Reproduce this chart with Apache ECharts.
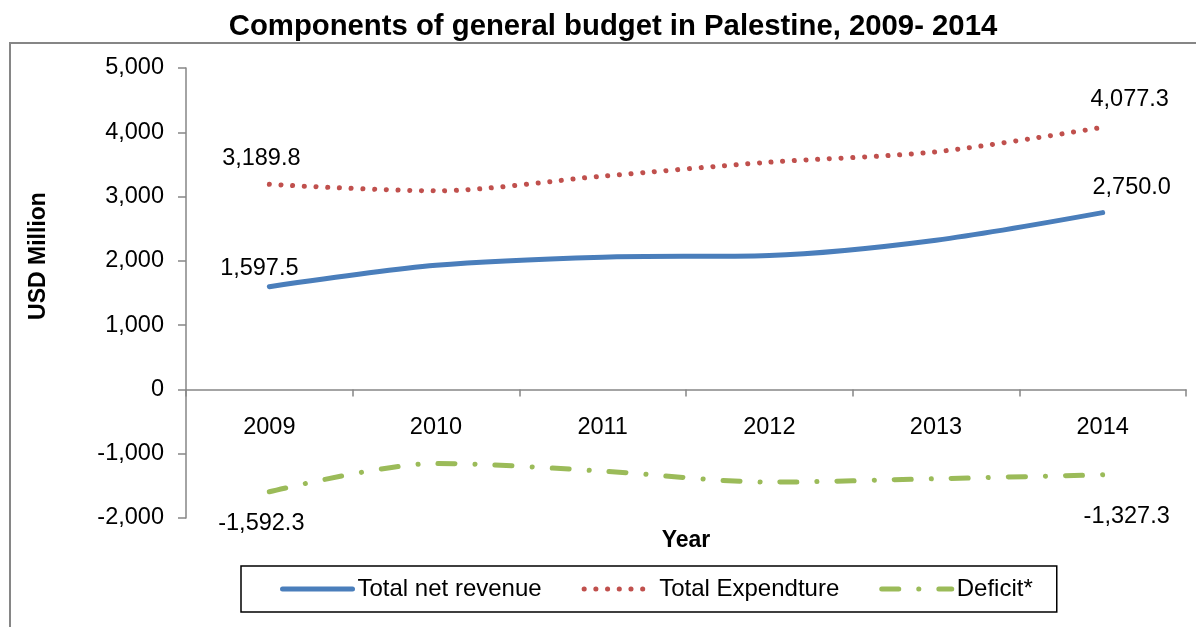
<!DOCTYPE html>
<html>
<head>
<meta charset="utf-8">
<script src="https://cdn.jsdelivr.net/npm/echarts@6/dist/echarts.min.js"></script>
<style>
html,body{margin:0;padding:0;background:#fff;}
#chart{width:1196px;height:627px;}
</style>
</head>
<body>
<div id="chart"></div>
<script>
const categories = ['2009', '2010', '2011', '2012', '2013', '2014'];
const revenue = [1597.5, 1930, 2058, 2084, 2322, 2750.0];
const expenditure = [3189.8, 3090, 3318, 3535, 3697, 4077.3];
const deficit = [-1592.3, -1151, -1270, -1442, -1389, -1327.3];
const seriesNames = ['Total net revenue', 'Total Expendture', 'Deficit*'];
const yTicks = { min: -2000, max: 5000, interval: 1000 };

const FONT = '"Liberation Sans", Arial, sans-serif';
const fmt = v => v.toLocaleString('en-US', { minimumFractionDigits: 1, maximumFractionDigits: 1 });

function withLabels(values, firstOffset, lastOffset) {
  return values.map((v, i) => {
    if (i === 0 || i === values.length - 1) {
      return {
        value: v,
        label: {
          show: true,
          position: 'inside',
          offset: i === 0 ? firstOffset : lastOffset,
          formatter: p => fmt(p.value),
          color: '#000',
          fontFamily: FONT,
          fontSize: 23.5
        }
      };
    }
    return v;
  });
}

const chart = echarts.init(document.getElementById('chart'), null, { renderer: 'canvas' });
chart.setOption({
  animation: false,
  backgroundColor: '#fff',
  title: {
    text: 'Components of general budget in Palestine, 2009- 2014',
    left: 608, top: 7, textAlign: 'center',
    textStyle: { fontFamily: FONT, fontWeight: 'bold', fontSize: 29.3, color: '#000' }
  },
  graphic: [{
    type: 'rect', z: -1,
    shape: { x: 10, y: 43, width: 1200, height: 620 },
    style: { fill: 'none', stroke: '#868686', lineWidth: 2 }
  }],
  legend: {
    left: 241, top: 566,
    data: seriesNames,
    itemWidth: 70, itemHeight: 14, itemGap: 40,
    padding: [11, 24, 11, 39],
    borderColor: '#000', borderWidth: 1.5,
    itemStyle: { opacity: 0 },
    lineStyle: { width: 5 },
    textStyle: { fontFamily: FONT, fontSize: 24, color: '#000' }
  },
  grid: { left: 186, right: 10, top: 68, bottom: 109, containLabel: false, outerBoundsMode: 'none' },
  xAxis: {
    type: 'category',
    data: categories,
    name: 'Year', nameLocation: 'middle', nameGap: 11,
    nameTextStyle: { fontFamily: FONT, fontWeight: 'bold', fontSize: 23, color: '#000' },
    axisLine: { onZero: true, lineStyle: { color: '#868686', width: 1.5 } },
    axisTick: { show: true, length: 7, lineStyle: { color: '#868686', width: 1.5 } },
    axisLabel: { margin: -102, fontFamily: FONT, fontSize: 23.5, color: '#000' },
    splitLine: { show: false }
  },
  yAxis: {
    type: 'value',
    min: yTicks.min, max: yTicks.max, interval: yTicks.interval,
    name: 'USD Million', nameLocation: 'middle', nameGap: 136,
    nameTextStyle: { fontFamily: FONT, fontWeight: 'bold', fontSize: 23, color: '#000', padding: [0, 0, 0, 74] },
    axisLine: { show: true, lineStyle: { color: '#868686', width: 1.5 } },
    axisTick: { show: true, length: 8, lineStyle: { color: '#868686', width: 1.5 } },
    axisLabel: { margin: 22, fontFamily: FONT, fontSize: 23.5, color: '#000',
      formatter: v => v.toLocaleString('en-US') },
    splitLine: { show: false }
  },
  series: [
    {
      name: seriesNames[0], type: 'line', smooth: 0.3,
      symbol: 'circle', symbolSize: 2, showSymbol: true,
      itemStyle: { color: 'rgba(0,0,0,0)' },
      lineStyle: { color: '#4A7EBB', width: 5, cap: 'round' },
      data: withLabels(revenue, [-10, -18], [29, -25]),
      z: 3
    },
    {
      name: seriesNames[1], type: 'line', smooth: 0.3,
      symbol: 'circle', symbolSize: 2, showSymbol: true,
      itemStyle: { color: 'rgba(0,0,0,0)' },
      lineStyle: { color: '#C0504D', width: 5, type: [0.1, 11.6], cap: 'round' },
      data: withLabels(expenditure, [-8, -26], [27, -28]),
      z: 2
    },
    {
      name: seriesNames[2], type: 'line', smooth: 0.3,
      symbol: 'circle', symbolSize: 2, showSymbol: true,
      itemStyle: { color: 'rgba(0,0,0,0)' },
      lineStyle: { color: '#9BBB59', width: 5, type: [17, 20, 0.1, 20], cap: 'round' },
      data: withLabels(deficit, [-8, 32], [24, 42]),
      z: 2
    }
  ]
});
</script>
</body>
</html>
